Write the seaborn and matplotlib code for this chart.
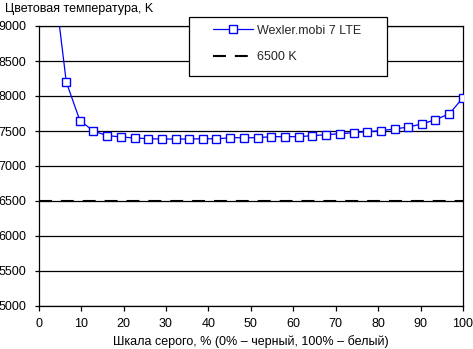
import numpy as np
import pandas as pd
import matplotlib
matplotlib.use("Agg")
import matplotlib.pyplot as plt
from matplotlib.patches import Rectangle
import seaborn as sns

# Data
gray_pct = [3.2, 6.5, 9.7, 12.9, 16.1, 19.4, 22.6, 25.8, 29.0, 32.3, 35.5,
            38.7, 41.9, 45.2, 48.4, 51.6, 54.8, 58.1, 61.3, 64.5, 67.7,
            71.0, 74.2, 77.4, 80.6, 83.9, 87.1, 90.3, 93.5, 96.8, 100.0]
temp_k = [9850, 8200, 7650, 7500, 7435, 7415, 7400, 7390, 7385, 7385, 7385,
          7390, 7388, 7404, 7404, 7404, 7419, 7419, 7419, 7433, 7447,
          7461, 7476, 7490, 7504, 7529, 7557, 7600, 7661, 7747, 7976]
ref_value = 6500
series_name = "Wexler.mobi 7 LTE"
ref_name = "6500 K"
x_ticks = [0, 10, 20, 30, 40, 50, 60, 70, 80, 90, 100]
y_ticks = [5000, 5500, 6000, 6500, 7000, 7500, 8000, 8500, 9000]

df = pd.DataFrame({"x": gray_pct, "y": temp_k})

sns.set_style("white")
plt.rcParams["font.family"] = ["Liberation Sans", "DejaVu Sans"]

W, H = 473, 349
fig = plt.figure(figsize=(W / 100, H / 100), dpi=100)
left, right, top, bottom = 38.7, 463, 26, 306
ax = fig.add_axes([left / W, (H - bottom) / H, (right - left) / W, (bottom - top) / H])

sns.lineplot(data=df, x="x", y="y", ax=ax, color="#0000ff", linewidth=0.9,
             marker="s", markersize=6.2, markerfacecolor="white",
             markeredgecolor="#0000ff", markeredgewidth=1.0,
             label=series_name, zorder=4)
ax.axhline(ref_value, color="black", linewidth=1.5, dashes=(6.2, 4.3),
           label=ref_name, zorder=3)

ax.set_xlim(0, 100)
ax.set_ylim(5000, 9000)
ax.set_xticks(x_ticks)
ax.set_yticks(y_ticks)
ax.yaxis.grid(True, color="black", linewidth=0.9)
ax.xaxis.grid(False)
ax.set_axisbelow(True)
for s in ["left", "bottom", "right", "top"]:
    ax.spines[s].set_visible(True)
    ax.spines[s].set_color("black")
    ax.spines[s].set_linewidth(0.9)

ax.tick_params(axis="y", direction="out", length=3.2, width=0.9, pad=5.5,
               labelsize=9, left=True, colors="black")
ax.tick_params(axis="x", direction="out", length=3.6, width=0.9, pad=5,
               labelsize=9, bottom=True, colors="black")

ax.set_xlabel("Шкала серого, % (0% – черный, 100% – белый)", fontsize=9,
              labelpad=4, color="black")
ax.set_ylabel("")
fig.text(5 / W, 1 - 9 / H, "Цветовая температура, K", fontsize=9,
         va="center", ha="left", color="black")

# legend frame (drawn as a rectangle in figure pixels)
bx0, bx1, by0, by1 = 189, 387, 17, 76
frame = Rectangle((bx0 / W, 1 - by1 / H), (bx1 - bx0) / W, (by1 - by0) / H,
                  transform=fig.transFigure, facecolor="white",
                  edgecolor="black", linewidth=0.9, zorder=9)
fig.add_artist(frame)

leg = ax.legend(loc="upper left", bbox_to_anchor=(213 / W, 1 - 24.5 / H),
                bbox_transform=fig.transFigure,
                frameon=False, fontsize=9, handlelength=3.2, borderpad=0,
                labelspacing=1.15, handletextpad=0.35, borderaxespad=0)
leg.set_zorder(10)
fig.add_artist(leg)

fig.savefig("out.png", dpi=100)
